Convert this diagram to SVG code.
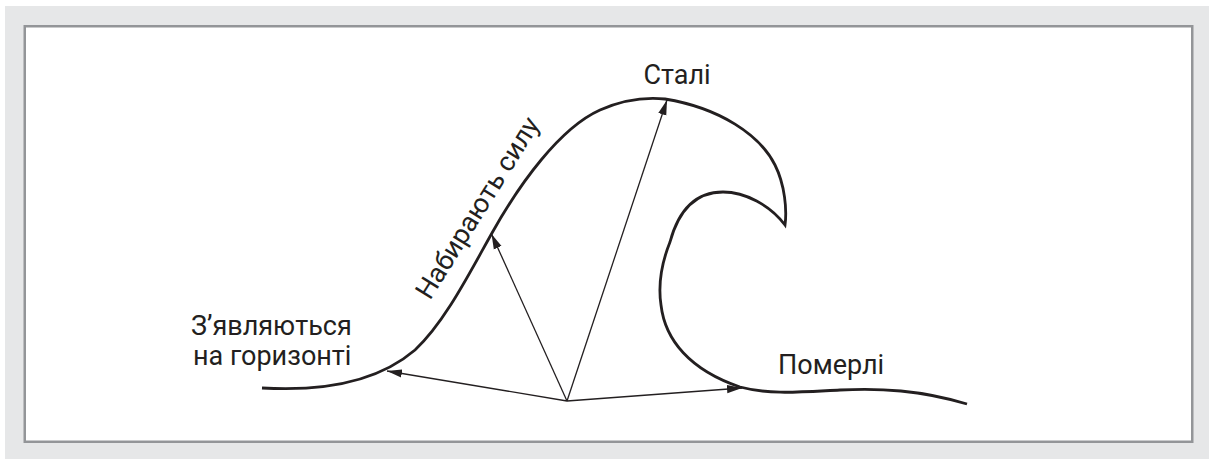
<svg xmlns="http://www.w3.org/2000/svg" width="1209" height="459" viewBox="0 0 1209 459">
  <style>
    .lbl { font-family: Roboto, "Liberation Sans", sans-serif; font-size: 27px; fill: #231f20; }
    .wave { fill: none; stroke: #231f20; stroke-width: 2.8; stroke-linecap: butt; }
    .arr { fill: none; stroke: #231f20; stroke-width: 1.3; marker-end: url(#ah); }
  </style>
  <defs>
    <marker id="ah" markerWidth="16" markerHeight="10" refX="15" refY="5" orient="auto" markerUnits="userSpaceOnUse">
      <path d="M0,0.8 L15,5 L0,9.2 Z" fill="#231f20"/>
    </marker>
  </defs>
  <rect x="5" y="6" width="1204" height="453" fill="#e6e7e8"/>
  <rect x="24.75" y="26.25" width="1167.5" height="415.5" fill="#ffffff" stroke="#939598" stroke-width="2.5"/>
  <g id="wave">
    <path class="wave" d="M262,388 C330,392 380,380 415,350 C445,322 470,272 492,233 C520,183 560,128 600,110 C625,99 645,97 665,99 C720,108 760,135 775,165 C785,185 787,210 785,225 C770,205 745,192 723,192 C700,192 680,205 670,242 C662,262 658,285 661,305 C665,340 690,370 740,387 C770,395 800,392 840,390 C880,388 920,390 967,404"/>
  </g>
  <g id="connectors">
    <line class="arr" x1="567" y1="401" x2="387" y2="371"/>
    <line class="arr" x1="567" y1="401" x2="491.5" y2="234"/>
    <line class="arr" x1="567" y1="401" x2="667" y2="100"/>
    <line class="arr" x1="567" y1="401" x2="742" y2="388"/>
  </g>
  <g id="label-appear">
    <text class="lbl" x="191" y="335">З’являються</text>
    <text class="lbl" x="193" y="365">на горизонті</text>
  </g>
  <g id="label-gain">
    <text class="lbl" transform="translate(430,301) rotate(-58)">Набирають силу</text>
  </g>
  <g id="label-became">
    <text class="lbl" x="677" y="84" text-anchor="middle">Сталі</text>
  </g>
  <g id="label-died">
    <text class="lbl" x="778" y="374">Померлі</text>
  </g>
</svg>
